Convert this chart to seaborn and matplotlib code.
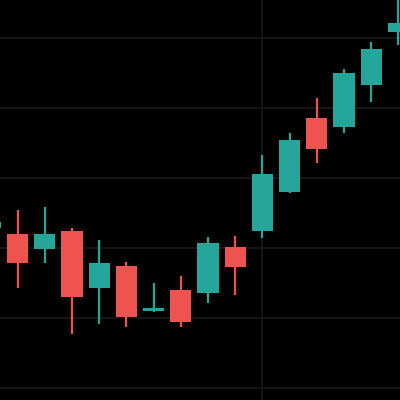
import numpy as np
import pandas as pd
import matplotlib
matplotlib.use("Agg")
import matplotlib.pyplot as plt
import seaborn as sns

# OHLC values (arbitrary price units)
opens  = [22.9, 22.0, 19.86, 22.43, 14.29, 17.43, 11.0, 14.0, 13.57, 20.14, 22.43, 28.0, 38.57, 37.29, 43.29, 50.86]
highs  = [25.0, 25.43, 25.86, 22.86, 21.14, 18.0, 15.0, 16.0, 21.57, 21.71, 33.29, 36.43, 41.43, 45.57, 49.43, 57.0]
lows   = [21.0, 14.29, 17.86, 7.71, 9.14, 8.71, 10.9, 8.71, 12.14, 13.29, 21.43, 27.86, 32.14, 36.43, 40.86, 49.0]
closes = [23.7, 17.86, 22.0, 13.0, 17.86, 10.14, 11.43, 9.43, 20.71, 17.29, 30.57, 35.43, 34.14, 45.0, 48.43, 52.14]

df = pd.DataFrame({"open": opens, "high": highs, "low": lows, "close": closes})
df["idx"] = np.arange(len(df))
df["up"] = df["close"] >= df["open"]

UP = "#26a69a"
DOWN = "#ef5350"
GRID = "#1a1a1a"

sns.set_theme(style="dark", rc={
    "axes.facecolor": "black",
    "figure.facecolor": "black",
    "grid.color": GRID,
    "grid.linewidth": 1.2,
    "axes.grid": True,
})

fig = plt.figure(figsize=(4, 4), dpi=100)
ax = fig.add_axes([0, 0, 1, 1])
ax.set_facecolor("black")

colors = [UP if u else DOWN for u in df["up"]]
body_bottom = np.minimum(df["open"], df["close"])
body_height = np.maximum(np.abs(df["close"] - df["open"]), 0.35)

ax.vlines(df["idx"], df["low"], df["high"], colors=colors, linewidth=1.6, zorder=2)
ax.bar(df["idx"], body_height, bottom=body_bottom, width=0.78, color=colors,
       edgecolor="none", zorder=3)

ax.set_xlim(0.35, 15.06)
ax.set_ylim(-1.71, 55.43)
ax.set_yticks([0, 10, 20, 30, 40, 50])
ax.set_xticks([10])
ax.grid(True, color=GRID, linewidth=1.2, zorder=0)
ax.tick_params(left=False, bottom=False, labelleft=False, labelbottom=False)
sns.despine(ax=ax, left=True, bottom=True)
ax.set_axisbelow(True)

fig.savefig("out.png", dpi=100, facecolor="black")
